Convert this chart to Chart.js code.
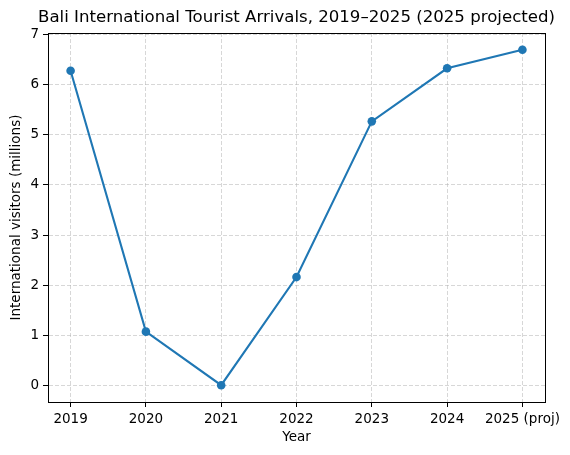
<!DOCTYPE html>
<html>
<head>
<meta charset="utf-8">
<script src="https://cdn.jsdelivr.net/npm/chart.js@4"></script>
<style>
  html, body { margin: 0; padding: 0; background: #fff; }
  #wrap { width: 570px; height: 455px; }
</style>
</head>
<body>
<div id="wrap"><canvas id="chart" width="570" height="455"></canvas></div>
<script>
// Chart data
const yearLabels = ['2019', '2020', '2021', '2022', '2023', '2024', '2025 (proj)'];
const visitors = [6.28, 1.07, 0.00005, 2.16, 5.27, 6.33, 6.70];
const yTicks = [0, 1, 2, 3, 4, 5, 6, 7];
const chartTitle = 'Bali International Tourist Arrivals, 2019–2025 (2025 projected)';

const FONT = 'DejaVu Sans, sans-serif';
const LINE_BLUE = '#1f77b4';

// Box frame round the plot area, and the title centred over it (matplotlib style)
const framePlugin = {
    id: 'frame',
    afterDraw(chart) {
        const { ctx, chartArea: a } = chart;
        ctx.save();
        ctx.strokeStyle = '#000';
        ctx.lineWidth = 1;
        ctx.strokeRect(Math.round(a.left) + 0.5, Math.round(a.top) + 0.5,
            Math.round(a.right - a.left), Math.round(a.bottom - a.top));
        ctx.fillStyle = '#000';
        ctx.font = '16.6px ' + FONT;
        ctx.textAlign = 'center';
        ctx.textBaseline = 'middle';
        ctx.fillText(chartTitle, (a.left + a.right) / 2, 18);
        ctx.restore();
    }
};

const points = visitors.map((v, i) => ({ x: i, y: v }));

new Chart(document.getElementById('chart'), {
    type: 'line',
    data: {
        datasets: [{
            data: points,
            borderColor: LINE_BLUE,
            backgroundColor: LINE_BLUE,
            borderWidth: 2.1,
            pointRadius: 4.3,
            pointBorderWidth: 0,
            pointBackgroundColor: LINE_BLUE,
            tension: 0,
            clip: false
        }]
    },
    options: {
        responsive: false,
        animation: false,
        layout: { padding: { left: 0, right: 25, top: 33, bottom: 0 } },
        plugins: {
            legend: { display: false },
            tooltip: { enabled: false },
            title: { display: false }
        },
        scales: {
            x: {
                type: 'linear',
                min: -0.3,
                max: 6.3,
                afterBuildTicks: s => { s.ticks = yearLabels.map((_, i) => ({ value: i })); },
                afterFit: s => { s.height = 53; },
                ticks: {
                    color: '#000',
                    font: { family: FONT, size: 13.5 },
                    padding: 4,
                    maxRotation: 0,
                    autoSkip: false,
                    callback: v => yearLabels[v]
                },
                grid: {
                    color: 'rgba(176,176,176,0.5)',
                    lineWidth: 1,
                    drawTicks: true,
                    tickLength: 5,
                    tickColor: '#000',
                    tickWidth: 1
                },
                border: { display: true, color: '#000', width: 1, dash: [4, 2] },
                title: {
                    display: true,
                    text: 'Year',
                    color: '#000',
                    font: { family: FONT, size: 13.5 },
                    padding: { top: 0, bottom: 9 }
                }
            },
            y: {
                type: 'linear',
                min: -0.335,
                max: 7.035,
                afterBuildTicks: s => { s.ticks = yTicks.map(v => ({ value: v })); },
                afterFit: s => { s.width = 48; },
                ticks: {
                    color: '#000',
                    font: { family: FONT, size: 13.5 },
                    padding: 4
                },
                grid: {
                    color: 'rgba(176,176,176,0.5)',
                    lineWidth: 1,
                    drawTicks: true,
                    tickLength: 5,
                    tickColor: '#000',
                    tickWidth: 1
                },
                border: { display: true, color: '#000', width: 1, dash: [4, 2] },
                title: {
                    display: true,
                    text: 'International visitors (millions)',
                    color: '#000',
                    font: { family: FONT, size: 13.5 },
                    padding: { top: 8.6, bottom: 0 }
                }
            }
        }
    },
    plugins: [framePlugin]
});
</script>
</body>
</html>
